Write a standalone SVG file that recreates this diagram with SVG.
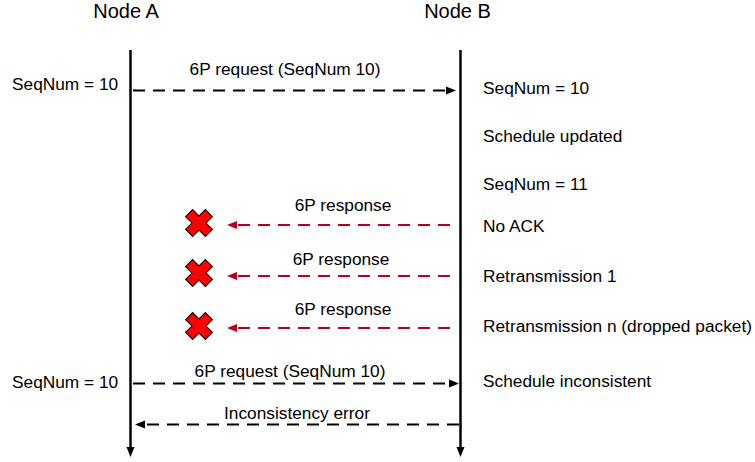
<svg xmlns="http://www.w3.org/2000/svg" width="755" height="462" viewBox="0 0 755 462">
<style>
text{font-family:"Liberation Sans",Arial,sans-serif;font-size:17.3px;fill:#000}
.title{font-size:20px}
.mid{text-anchor:middle}
.life{stroke:#000;stroke-width:2.5;fill:none}
.msg{stroke:#000;stroke-width:2;stroke-dasharray:12 8;fill:none}
.red{stroke:#B8001F;stroke-width:2;stroke-dasharray:12 8;fill:none}
.x{fill:#FF0000;stroke:#000;stroke-width:1}
</style>
<defs>
<marker id="hb" markerUnits="userSpaceOnUse" markerWidth="10" markerHeight="8" refX="0" refY="4" orient="auto" overflow="visible">
<path d="M0,0 L10,4 L0,8 z" fill="#000"/>
</marker>
<marker id="hr" markerUnits="userSpaceOnUse" markerWidth="10" markerHeight="8" refX="0" refY="4" orient="auto" overflow="visible">
<path d="M0,0 L10,4 L0,8 z" fill="#B8001F"/>
</marker>
<path id="cross" d="M-5,-14 L5,-14 L5,-5 L14,-5 L14,5 L5,5 L5,14 L-5,14 L-5,5 L-14,5 L-14,-5 L-5,-5 z" transform="rotate(45)"/>
</defs>

<g id="nodeA">
<text class="title mid" x="126" y="18">Node A</text>
<line class="life" x1="130.5" y1="50" x2="130.5" y2="447" marker-end="url(#hb)"/>
</g>
<g id="nodeB">
<text class="title mid" x="457.5" y="18">Node B</text>
<line class="life" x1="460.5" y1="50" x2="460.5" y2="447" marker-end="url(#hb)"/>
</g>

<g id="notesA">
<text x="12" y="90">SeqNum = 10</text>
<text x="12" y="388">SeqNum = 10</text>
</g>
<g id="notesB">
<text x="483" y="94">SeqNum = 10</text>
<text x="483" y="142">Schedule updated</text>
<text x="483" y="190">SeqNum = 11</text>
<text x="483" y="232">No ACK</text>
<text x="483" y="282">Retransmission 1</text>
<text x="483" y="332">Retransmission n (dropped packet)</text>
<text x="483" y="387">Schedule inconsistent</text>
</g>

<g id="drops">
<use href="#cross" class="x" transform="translate(199,223)"/>
<use href="#cross" class="x" transform="translate(199,273)"/>
<use href="#cross" class="x" transform="translate(199,326)"/>
</g>

<g id="connectors">
<line class="msg" x1="133" y1="90.5" x2="446" y2="90.5" marker-end="url(#hb)"/>
<text class="mid" x="285" y="75">6P request (SeqNum 10)</text>

<line class="red" x1="450" y1="225" x2="237" y2="225" marker-end="url(#hr)"/>
<text class="mid" x="343" y="211">6P response</text>
<line class="red" x1="450" y1="276" x2="237" y2="276" marker-end="url(#hr)"/>
<text class="mid" x="341" y="265">6P response</text>
<line class="red" x1="450" y1="328" x2="237" y2="328" marker-end="url(#hr)"/>
<text class="mid" x="343" y="315">6P response</text>

<line class="msg" x1="133" y1="383.5" x2="449" y2="383.5" marker-end="url(#hb)"/>
<text class="mid" x="290" y="377">6P request (SeqNum 10)</text>

<line class="msg" x1="459" y1="424.5" x2="145" y2="424.5" marker-end="url(#hb)"/>
<text class="mid" x="297" y="419">Inconsistency error</text>
</g>
</svg>
